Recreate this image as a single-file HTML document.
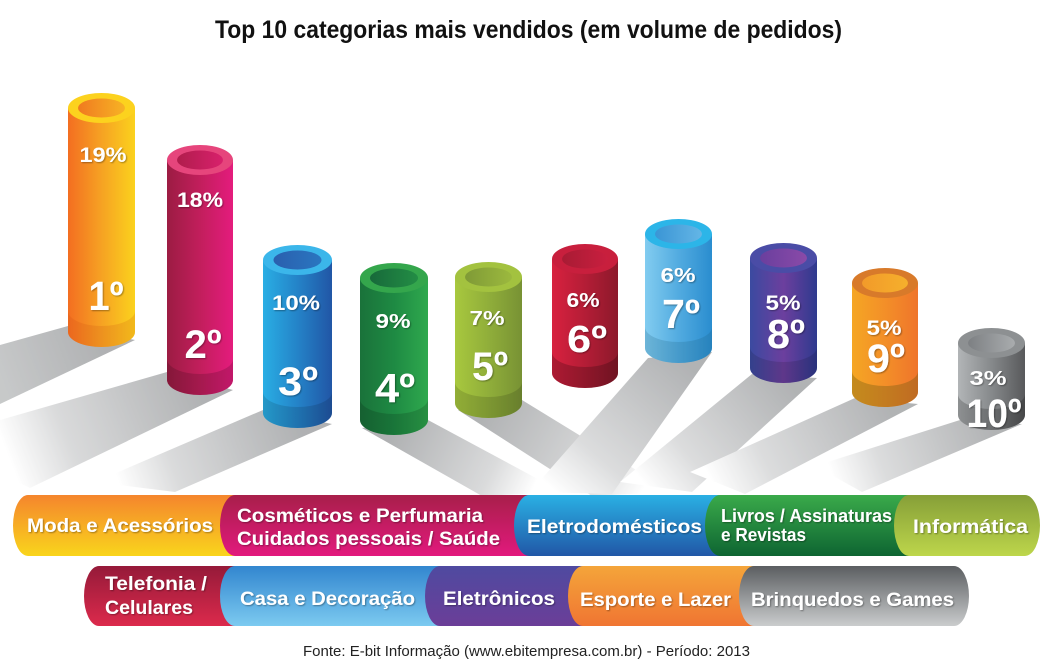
<!DOCTYPE html>
<html><head><meta charset="utf-8"><style>
html,body{margin:0;padding:0;background:#fff;}
svg{display:block;}
text{font-family:"Liberation Sans",sans-serif;}
</style></head><body>
<svg width="1053" height="668" viewBox="0 0 1053 668" xmlns="http://www.w3.org/2000/svg">
<defs>
<filter id="ts" x="-10%" y="-30%" width="120%" height="160%"><feDropShadow dx="1" dy="1" stdDeviation="0.8" flood-color="#000" flood-opacity="0.35"/></filter>
<linearGradient id="b1" x1="0" x2="1" y1="0" y2="0"><stop offset="0" stop-color="#f36e21"/><stop offset="0.5" stop-color="#f6a223"/><stop offset="1" stop-color="#fbd21d"/></linearGradient>
<linearGradient id="b2" x1="0" x2="1" y1="0" y2="0"><stop offset="0" stop-color="#9c1c43"/><stop offset="0.5" stop-color="#c21e5c"/><stop offset="1" stop-color="#e41c7d"/></linearGradient>
<linearGradient id="b3" x1="0" x2="1" y1="0" y2="0"><stop offset="0" stop-color="#29aee4"/><stop offset="0.5" stop-color="#2483c8"/><stop offset="1" stop-color="#2156a6"/></linearGradient>
<linearGradient id="b4" x1="0" x2="1" y1="0" y2="0"><stop offset="0" stop-color="#1a723a"/><stop offset="0.5" stop-color="#1e8a43"/><stop offset="1" stop-color="#2fa94e"/></linearGradient>
<linearGradient id="b5" x1="0" x2="1" y1="0" y2="0"><stop offset="0" stop-color="#a8c83e"/><stop offset="0.5" stop-color="#90ae3a"/><stop offset="1" stop-color="#789234"/></linearGradient>
<linearGradient id="b6" x1="0" x2="1" y1="0" y2="0"><stop offset="0" stop-color="#d8213f"/><stop offset="0.5" stop-color="#b41d36"/><stop offset="1" stop-color="#8c192b"/></linearGradient>
<linearGradient id="b7" x1="0" x2="1" y1="0" y2="0"><stop offset="0" stop-color="#82ccf0"/><stop offset="0.5" stop-color="#52abe0"/><stop offset="1" stop-color="#2a8dcf"/></linearGradient>
<linearGradient id="b8" x1="0" x2="1" y1="0" y2="0"><stop offset="0" stop-color="#3b4aa0"/><stop offset="0.5" stop-color="#6c3f9e"/><stop offset="1" stop-color="#2e3a8e"/></linearGradient>
<linearGradient id="b9" x1="0" x2="1" y1="0" y2="0"><stop offset="0" stop-color="#f5a624"/><stop offset="0.5" stop-color="#f38f28"/><stop offset="1" stop-color="#ef752b"/></linearGradient>
<linearGradient id="b10" x1="0" x2="1" y1="0" y2="0"><stop offset="0" stop-color="#b2b5b7"/><stop offset="0.5" stop-color="#86898b"/><stop offset="1" stop-color="#58595b"/></linearGradient>
<linearGradient id="h1" x1="0" x2="1"><stop offset="0" stop-color="#f07a20"/><stop offset="1" stop-color="#f7b324"/></linearGradient>
<linearGradient id="h2" x1="0" x2="1"><stop offset="0" stop-color="#b01d4c"/><stop offset="1" stop-color="#d8206c"/></linearGradient>
<linearGradient id="h3" x1="0" x2="1"><stop offset="0" stop-color="#2a5fae"/><stop offset="1" stop-color="#2a76c0"/></linearGradient>
<linearGradient id="h4" x1="0" x2="1"><stop offset="0" stop-color="#17693a"/><stop offset="1" stop-color="#238d45"/></linearGradient>
<linearGradient id="h5" x1="0" x2="1"><stop offset="0" stop-color="#7f9a36"/><stop offset="1" stop-color="#9cb93e"/></linearGradient>
<linearGradient id="h6" x1="0" x2="1"><stop offset="0" stop-color="#a81b34"/><stop offset="1" stop-color="#c91f3f"/></linearGradient>
<linearGradient id="h7" x1="0" x2="1"><stop offset="0" stop-color="#3a95d5"/><stop offset="1" stop-color="#64b6e6"/></linearGradient>
<linearGradient id="h8" x1="0" x2="1"><stop offset="0" stop-color="#6a3f9e"/><stop offset="1" stop-color="#8a4aa8"/></linearGradient>
<linearGradient id="h9" x1="0" x2="1"><stop offset="0" stop-color="#f29a2a"/><stop offset="1" stop-color="#f5b02c"/></linearGradient>
<linearGradient id="h10" x1="0" x2="1"><stop offset="0" stop-color="#7d8083"/><stop offset="1" stop-color="#a9acae"/></linearGradient>
<linearGradient id="p1" x1="0" x2="0" y1="0" y2="1"><stop offset="0" stop-color="#f5852d"/><stop offset="1" stop-color="#f9d51c"/></linearGradient>
<linearGradient id="p2" x1="0" x2="0" y1="0" y2="1"><stop offset="0" stop-color="#a81f4a"/><stop offset="1" stop-color="#e2197d"/></linearGradient>
<linearGradient id="p3" x1="0" x2="0" y1="0" y2="1"><stop offset="0" stop-color="#2ab0e4"/><stop offset="1" stop-color="#2157a7"/></linearGradient>
<linearGradient id="p4" x1="0" x2="0" y1="0" y2="1"><stop offset="0" stop-color="#3aaa4a"/><stop offset="1" stop-color="#0e6532"/></linearGradient>
<linearGradient id="p5" x1="0" x2="0" y1="0" y2="1"><stop offset="0" stop-color="#869f38"/><stop offset="1" stop-color="#bdd64b"/></linearGradient>
<linearGradient id="p6" x1="0" x2="0" y1="0" y2="1"><stop offset="0" stop-color="#951a39"/><stop offset="1" stop-color="#dc2a4c"/></linearGradient>
<linearGradient id="p7" x1="0" x2="0" y1="0" y2="1"><stop offset="0" stop-color="#3286cf"/><stop offset="1" stop-color="#7ccaf0"/></linearGradient>
<linearGradient id="p8" x1="0" x2="0" y1="0" y2="1"><stop offset="0" stop-color="#4f4aa0"/><stop offset="1" stop-color="#6b3e98"/></linearGradient>
<linearGradient id="p9" x1="0" x2="0" y1="0" y2="1"><stop offset="0" stop-color="#f4a53a"/><stop offset="1" stop-color="#f07532"/></linearGradient>
<linearGradient id="p10" x1="0" x2="0" y1="0" y2="1"><stop offset="0" stop-color="#5b5e61"/><stop offset="1" stop-color="#cacccd"/></linearGradient>
<linearGradient id="s1" gradientUnits="userSpaceOnUse" x1="100" y1="338" x2="0" y2="375"><stop offset="0" stop-color="#9a9c9e"/><stop offset="1" stop-color="#b8babb"/></linearGradient>
<linearGradient id="s2" gradientUnits="userSpaceOnUse" x1="200" y1="385" x2="10" y2="460"><stop offset="0" stop-color="#9a9c9e"/><stop offset="0.7" stop-color="#cfd0d1"/><stop offset="1" stop-color="#fff"/></linearGradient>
<linearGradient id="s3" gradientUnits="userSpaceOnUse" x1="297" y1="420" x2="120" y2="485"><stop offset="0" stop-color="#9a9c9e"/><stop offset="0.7" stop-color="#d0d1d2"/><stop offset="1" stop-color="#fff"/></linearGradient>
<linearGradient id="s4" gradientUnits="userSpaceOnUse" x1="394" y1="430" x2="530" y2="495"><stop offset="0" stop-color="#9a9c9e"/><stop offset="0.7" stop-color="#d0d1d2"/><stop offset="1" stop-color="#fff"/></linearGradient>
<linearGradient id="s5" gradientUnits="userSpaceOnUse" x1="488" y1="410" x2="640" y2="495"><stop offset="0" stop-color="#9c9ea0"/><stop offset="0.7" stop-color="#d0d1d2"/><stop offset="1" stop-color="#fff"/></linearGradient>
<linearGradient id="s7" gradientUnits="userSpaceOnUse" x1="678" y1="358" x2="560" y2="495"><stop offset="0" stop-color="#9c9ea0"/><stop offset="0.7" stop-color="#d2d3d4"/><stop offset="1" stop-color="#fff"/></linearGradient>
<linearGradient id="s8" gradientUnits="userSpaceOnUse" x1="783" y1="378" x2="650" y2="490"><stop offset="0" stop-color="#9c9ea0"/><stop offset="0.7" stop-color="#d2d3d4"/><stop offset="1" stop-color="#fff"/></linearGradient>
<linearGradient id="s9" gradientUnits="userSpaceOnUse" x1="885" y1="402" x2="715" y2="488"><stop offset="0" stop-color="#9c9ea0"/><stop offset="0.7" stop-color="#d2d3d4"/><stop offset="1" stop-color="#fff"/></linearGradient>
<linearGradient id="s10" gradientUnits="userSpaceOnUse" x1="991" y1="424" x2="835" y2="482"><stop offset="0" stop-color="#9c9ea0"/><stop offset="0.7" stop-color="#d2d3d4"/><stop offset="1" stop-color="#fff"/></linearGradient>
</defs>

<rect width="1053" height="668" fill="#fff"/>

<text x="215" y="38" font-size="25" font-weight="bold" fill="#111" textLength="627" lengthAdjust="spacingAndGlyphs">Top 10 categorias mais vendidos (em volume de pedidos)</text>

<g opacity="0.78">
<polygon points="68,326 135,340 0,404 0,345" fill="url(#s1)"/>
<polygon points="167,372 233,390 30,488 0,474 0,420" fill="url(#s2)"/>
<polygon points="263,410 332,424 175,492 95,482" fill="url(#s3)"/>
<polygon points="362,428 428,420 562,492 482,496" fill="url(#s4)"/>
<polygon points="458,410 522,400 672,492 592,496" fill="url(#s5)"/>
<polygon points="648,358 712,352 612,494 530,492" fill="url(#s7)"/>
<polygon points="752,374 817,378 692,492 620,482" fill="url(#s8)"/>
<polygon points="855,398 918,404 745,494 690,472" fill="url(#s9)"/>
<polygon points="960,420 1022,424 862,492 815,466" fill="url(#s10)"/>
</g>

<path d="M68,108 L68,332 A33.5,15 0 0 0 135,332 L135,108 Z" fill="url(#b1)"/>
<path d="M68,311 A33.5,15 0 0 0 135,311 L135,332 A33.5,15 0 0 1 68,332 Z" fill="#c84a10" opacity="0.18"/>
<ellipse cx="101.5" cy="108" rx="33.5" ry="15" fill="#fcd21e"/>
<ellipse cx="101.5" cy="108" rx="23.5" ry="9.5" fill="url(#h1)"/>
<path d="M167,160 L167,380 A33,15 0 0 0 233,380 L233,160 Z" fill="url(#b2)"/>
<path d="M167,359 A33,15 0 0 0 233,359 L233,380 A33,15 0 0 1 167,380 Z" fill="#000" opacity="0.15"/>
<ellipse cx="200" cy="160" rx="33" ry="15" fill="#e6457c"/>
<ellipse cx="200" cy="160" rx="23" ry="9.5" fill="url(#h2)"/>
<path d="M263,260 L263,413 A34.5,15 0 0 0 332,413 L332,260 Z" fill="url(#b3)"/>
<path d="M263,392 A34.5,15 0 0 0 332,392 L332,413 A34.5,15 0 0 1 263,413 Z" fill="#000" opacity="0.12"/>
<ellipse cx="297.5" cy="260" rx="34.5" ry="15" fill="#3bb6ea"/>
<ellipse cx="297.5" cy="260" rx="24" ry="9.5" fill="url(#h3)"/>
<path d="M360,278 L360,420 A34,15 0 0 0 428,420 L428,278 Z" fill="url(#b4)"/>
<path d="M360,399 A34,15 0 0 0 428,399 L428,420 A34,15 0 0 1 360,420 Z" fill="#000" opacity="0.15"/>
<ellipse cx="394" cy="278" rx="34" ry="15" fill="#34a64c"/>
<ellipse cx="394" cy="278" rx="24" ry="9.5" fill="url(#h4)"/>
<path d="M455,277 L455,403 A33.5,15 0 0 0 522,403 L522,277 Z" fill="url(#b5)"/>
<path d="M455,382 A33.5,15 0 0 0 522,382 L522,403 A33.5,15 0 0 1 455,403 Z" fill="#000" opacity="0.13"/>
<ellipse cx="488.5" cy="277" rx="33.5" ry="15" fill="#a3c23f"/>
<ellipse cx="488.5" cy="277" rx="23.5" ry="9.5" fill="url(#h5)"/>
<path d="M552,259 L552,373 A33,15 0 0 0 618,373 L618,259 Z" fill="url(#b6)"/>
<path d="M552,352 A33,15 0 0 0 618,352 L618,373 A33,15 0 0 1 552,373 Z" fill="#000" opacity="0.2"/>
<ellipse cx="585" cy="259" rx="33" ry="15" fill="#c81f3d"/>
<ellipse cx="585" cy="259" rx="23" ry="9.5" fill="url(#h6)"/>
<path d="M645,234 L645,348 A33.5,15 0 0 0 712,348 L712,234 Z" fill="url(#b7)"/>
<path d="M645,327 A33.5,15 0 0 0 712,327 L712,348 A33.5,15 0 0 1 645,348 Z" fill="#1a5a7a" opacity="0.2"/>
<ellipse cx="678.5" cy="234" rx="33.5" ry="15" fill="#2cb5e8"/>
<ellipse cx="678.5" cy="234" rx="23.5" ry="9.5" fill="url(#h7)"/>
<path d="M750,258 L750,368 A33.5,15 0 0 0 817,368 L817,258 Z" fill="url(#b8)"/>
<path d="M750,347 A33.5,15 0 0 0 817,347 L817,368 A33.5,15 0 0 1 750,368 Z" fill="#000" opacity="0.12"/>
<ellipse cx="783.5" cy="258" rx="33.5" ry="15" fill="#4a4ca6"/>
<ellipse cx="783.5" cy="258" rx="23.5" ry="9.5" fill="url(#h8)"/>
<path d="M852,283 L852,392 A33,15 0 0 0 918,392 L918,283 Z" fill="url(#b9)"/>
<path d="M852,371 A33,15 0 0 0 918,371 L918,392 A33,15 0 0 1 852,392 Z" fill="#6a5a10" opacity="0.35"/>
<ellipse cx="885" cy="283" rx="33" ry="15" fill="#d87a2a"/>
<ellipse cx="885" cy="283" rx="23" ry="9.5" fill="url(#h9)"/>
<path d="M958,343 L958,415 A33.5,15 0 0 0 1025,415 L1025,343 Z" fill="url(#b10)"/>
<path d="M958,394 A33.5,15 0 0 0 1025,394 L1025,415 A33.5,15 0 0 1 958,415 Z" fill="#000" opacity="0.2"/>
<ellipse cx="991.5" cy="343" rx="33.5" ry="15" fill="#8d9092"/>
<ellipse cx="991.5" cy="343" rx="23.5" ry="9.5" fill="url(#h10)"/>

<g fill="#fff" font-weight="bold" text-anchor="middle" filter="url(#ts)">
<text x="103" y="162" font-size="21" textLength="47" lengthAdjust="spacingAndGlyphs">19%</text>
<text x="200" y="207" font-size="21" textLength="46" lengthAdjust="spacingAndGlyphs">18%</text>
<text x="296" y="310" font-size="21" textLength="48" lengthAdjust="spacingAndGlyphs">10%</text>
<text x="393" y="328" font-size="20" textLength="35" lengthAdjust="spacingAndGlyphs">9%</text>
<text x="487" y="325" font-size="20" textLength="35" lengthAdjust="spacingAndGlyphs">7%</text>
<text x="583" y="307" font-size="20" textLength="33" lengthAdjust="spacingAndGlyphs">6%</text>
<text x="678" y="282" font-size="20" textLength="35" lengthAdjust="spacingAndGlyphs">6%</text>
<text x="783" y="310" font-size="21" textLength="35" lengthAdjust="spacingAndGlyphs">5%</text>
<text x="884" y="335" font-size="21" textLength="35" lengthAdjust="spacingAndGlyphs">5%</text>
<text x="988" y="385" font-size="20" textLength="37" lengthAdjust="spacingAndGlyphs">3%</text>
<text x="106" y="310" font-size="41" textLength="35" lengthAdjust="spacingAndGlyphs">1º</text>
<text x="203" y="358" font-size="40" textLength="37" lengthAdjust="spacingAndGlyphs">2º</text>
<text x="298" y="395" font-size="40" textLength="40" lengthAdjust="spacingAndGlyphs">3º</text>
<text x="395" y="402" font-size="41" textLength="40" lengthAdjust="spacingAndGlyphs">4º</text>
<text x="490" y="380" font-size="40" textLength="36" lengthAdjust="spacingAndGlyphs">5º</text>
<text x="587" y="352" font-size="38" textLength="40" lengthAdjust="spacingAndGlyphs">6º</text>
<text x="681" y="328" font-size="41" textLength="38" lengthAdjust="spacingAndGlyphs">7º</text>
<text x="786" y="348" font-size="41" textLength="38" lengthAdjust="spacingAndGlyphs">8º</text>
<text x="886" y="372" font-size="40" textLength="38" lengthAdjust="spacingAndGlyphs">9º</text>
<text x="994" y="427" font-size="40" textLength="55" lengthAdjust="spacingAndGlyphs">10º</text>
</g>

<path d="M28,495 H235 A15,30.5 0 0 1 235,556 H28 A15,30.5 0 0 1 28,495 Z" fill="url(#p1)"/>
<path d="M235,495 H530 A15,30.5 0 0 1 530,556 H235 A15,30.5 0 0 1 235,495 Z" fill="url(#p2)"/>
<path d="M529,495 H720 A15,30.5 0 0 1 720,556 H529 A15,30.5 0 0 1 529,495 Z" fill="url(#p3)"/>
<path d="M720,495 H910 A15,30.5 0 0 1 910,556 H720 A15,30.5 0 0 1 720,495 Z" fill="url(#p4)"/>
<path d="M909,495 H1025 A15,30.5 0 0 1 1025,556 H909 A15,30.5 0 0 1 909,495 Z" fill="url(#p5)"/>
<path d="M99,566 H235 A15,30 0 0 1 235,626 H99 A15,30 0 0 1 99,566 Z" fill="url(#p6)"/>
<path d="M235,566 H440 A15,30 0 0 1 440,626 H235 A15,30 0 0 1 235,566 Z" fill="url(#p7)"/>
<path d="M440,566 H583 A15,30 0 0 1 583,626 H440 A15,30 0 0 1 440,566 Z" fill="url(#p8)"/>
<path d="M583,566 H755 A15,30 0 0 1 755,626 H583 A15,30 0 0 1 583,566 Z" fill="url(#p9)"/>
<path d="M754,566 H954 A15,30 0 0 1 954,626 H754 A15,30 0 0 1 754,566 Z" fill="url(#p10)"/>

<g fill="#fff" font-weight="bold" font-size="19" filter="url(#ts)">
<text x="27" y="532" textLength="186" lengthAdjust="spacingAndGlyphs">Moda e Acessórios</text>
<text x="237" y="522" textLength="246" lengthAdjust="spacingAndGlyphs">Cosméticos e Perfumaria</text>
<text x="237" y="545" textLength="263" lengthAdjust="spacingAndGlyphs">Cuidados pessoais /  Saúde</text>
<text x="527" y="533" textLength="175" lengthAdjust="spacingAndGlyphs">Eletrodomésticos</text>
<text x="721" y="522" font-size="18" textLength="171" lengthAdjust="spacingAndGlyphs">Livros / Assinaturas</text>
<text x="721" y="541" font-size="18" textLength="85" lengthAdjust="spacingAndGlyphs">e Revistas</text>
<text x="913" y="533" textLength="115" lengthAdjust="spacingAndGlyphs">Informática</text>
<text x="105" y="590" textLength="102" lengthAdjust="spacingAndGlyphs">Telefonia /</text>
<text x="105" y="614" textLength="88" lengthAdjust="spacingAndGlyphs">Celulares</text>
<text x="240" y="605" textLength="175" lengthAdjust="spacingAndGlyphs">Casa e Decoração</text>
<text x="443" y="605" textLength="112" lengthAdjust="spacingAndGlyphs">Eletrônicos</text>
<text x="580" y="606" textLength="151" lengthAdjust="spacingAndGlyphs">Esporte e Lazer</text>
<text x="751" y="606" textLength="203" lengthAdjust="spacingAndGlyphs">Brinquedos e Games</text>
</g>

<text x="303" y="656" font-size="15" fill="#222" textLength="447" lengthAdjust="spacingAndGlyphs">Fonte: E-bit Informação (www.ebitempresa.com.br) - Período: 2013</text>
</svg>
</body></html>
